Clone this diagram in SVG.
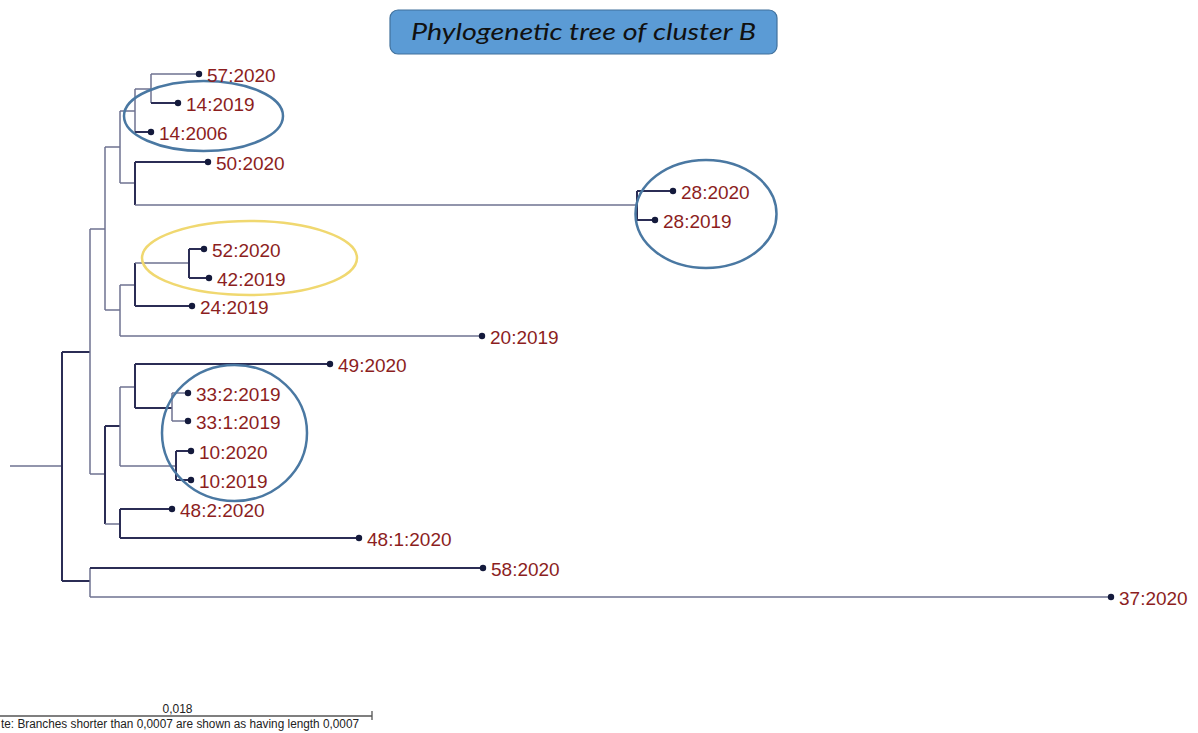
<svg xmlns="http://www.w3.org/2000/svg" width="1198" height="733" viewBox="0 0 1198 733">
  <style>
    .dk { stroke: #2b2d55; stroke-width: 2; fill: none; }
    .lt { stroke: #6e7290; stroke-width: 1.5; fill: none; }
    .tip { fill: #141a3c; }
    .lbl { font-family: "Liberation Sans", Arial, sans-serif; font-size: 19px; fill: #8c1e1e; }
    .ring { fill: none; stroke: #4a78a2; stroke-width: 2.5; }
    .ring-y { fill: none; stroke: #f0d870; stroke-width: 2.5; }
    .small { font-family: "Liberation Sans", Arial, sans-serif; font-size: 12px; fill: #222; }
  </style>

  <rect width="1198" height="733" fill="#ffffff"/>

  <!-- title -->
  <g id="title">
    <rect x="390" y="10" width="387" height="44" rx="8" fill="#5b9bd5" stroke="#41719c" stroke-width="1.2"/>
    <text x="583.5" y="40" text-anchor="middle" font-family="Lato, 'Open Sans', sans-serif" font-style="italic" font-size="24" fill="#111" textLength="345" lengthAdjust="spacingAndGlyphs">Phylogenetic tree of cluster B</text>
  </g>

  <!-- tree branches -->
  <g id="connectors">
    <!-- root -->
    <path class="lt" d="M10 466 H62"/>
    <path class="dk" d="M62 352 V581"/>
    <path class="dk" d="M62 352 H90"/>
    <path class="dk" d="M62 581 H90"/>

    <!-- outgroup pair -->
    <path class="lt" d="M90 568 V597"/>
    <path class="dk" d="M90 568 H483"/>
    <path class="lt" d="M90 597 H1111"/>

    <!-- main clade -->
    <path class="lt" d="M90 229 V474"/>
    <path class="lt" d="M90 229 H105"/>
    <path class="lt" d="M90 474 H105"/>

    <!-- upper subclade -->
    <path class="lt" d="M105 147 V310"/>
    <path class="lt" d="M105 147 H120"/>
    <path class="lt" d="M105 310 H120"/>

    <path class="lt" d="M120 111 V183"/>
    <path class="lt" d="M120 111 H135"/>
    <path class="lt" d="M120 183 H135"/>

    <path class="lt" d="M135 89 V132"/>
    <path class="lt" d="M135 89 H151"/>
    <path class="dk" d="M135 132 H151"/>
    <path class="lt" d="M151 74 V103"/>
    <path class="lt" d="M151 74 H199"/>
    <path class="dk" d="M151 103 H178"/>

    <path class="dk" d="M135 162 V205"/>
    <path class="dk" d="M135 162 H208"/>
    <path class="lt" d="M135 205 H637"/>
    <path class="dk" d="M637 191 V220"/>
    <path class="dk" d="M637 191 H673"/>
    <path class="dk" d="M637 220 H655"/>

    <path class="lt" d="M120 285 V336"/>
    <path class="lt" d="M120 285 H135"/>
    <path class="lt" d="M120 336 H482"/>
    <path class="dk" d="M135 263 V306"/>
    <path class="lt" d="M135 263 H189"/>
    <path class="dk" d="M135 306 H192"/>
    <path class="dk" d="M189 249 V278"/>
    <path class="dk" d="M189 249 H204"/>
    <path class="dk" d="M189 278 H209"/>

    <!-- lower subclade -->
    <path class="dk" d="M105 426 V524"/>
    <path class="dk" d="M105 426 H120"/>
    <path class="lt" d="M105 524 H120"/>

    <path class="lt" d="M120 387 V466"/>
    <path class="lt" d="M120 387 H135"/>
    <path class="lt" d="M120 466 H176"/>
    <path class="dk" d="M135 364 V408"/>
    <path class="dk" d="M135 364 H330"/>
    <path class="dk" d="M135 408 H172"/>
    <path class="lt" d="M172 393 V421"/>
    <path class="lt" d="M172 393 H188"/>
    <path class="lt" d="M172 421 H188"/>
    <path class="dk" d="M176 451 V480"/>
    <path class="dk" d="M176 451 H191"/>
    <path class="dk" d="M176 480 H191"/>

    <path class="dk" d="M120 509 V538"/>
    <path class="dk" d="M120 509 H172"/>
    <path class="dk" d="M120 538 H359"/>
  </g>

  <!-- highlight rings -->
  <g id="groups">
    <ellipse class="ring" cx="203.5" cy="116" rx="79.5" ry="35"/>
    <ellipse class="ring" cx="706" cy="214" rx="70.5" ry="54"/>
    <ellipse class="ring-y" cx="249.5" cy="258" rx="107.5" ry="37"/>
    <ellipse class="ring" cx="234.5" cy="433" rx="72.5" ry="68"/>
  </g>

  <!-- leaves -->
  <g id="leaf-57-2020"><circle class="tip" cx="199" cy="74" r="3.2"/><text class="lbl" x="207" y="82">57:2020</text></g>
  <g id="leaf-14-2019"><circle class="tip" cx="178" cy="103" r="3.2"/><text class="lbl" x="186" y="111">14:2019</text></g>
  <g id="leaf-14-2006"><circle class="tip" cx="151" cy="132" r="3.2"/><text class="lbl" x="159" y="140">14:2006</text></g>
  <g id="leaf-50-2020"><circle class="tip" cx="208" cy="162" r="3.2"/><text class="lbl" x="216" y="170">50:2020</text></g>
  <g id="leaf-28-2020"><circle class="tip" cx="673" cy="191" r="3.2"/><text class="lbl" x="681" y="199">28:2020</text></g>
  <g id="leaf-28-2019"><circle class="tip" cx="655" cy="220" r="3.2"/><text class="lbl" x="663" y="228">28:2019</text></g>
  <g id="leaf-52-2020"><circle class="tip" cx="204" cy="249" r="3.2"/><text class="lbl" x="212" y="257">52:2020</text></g>
  <g id="leaf-42-2019"><circle class="tip" cx="209" cy="278" r="3.2"/><text class="lbl" x="217" y="286">42:2019</text></g>
  <g id="leaf-24-2019"><circle class="tip" cx="192" cy="306" r="3.2"/><text class="lbl" x="200" y="314">24:2019</text></g>
  <g id="leaf-20-2019"><circle class="tip" cx="482" cy="336" r="3.2"/><text class="lbl" x="490" y="344">20:2019</text></g>
  <g id="leaf-49-2020"><circle class="tip" cx="330" cy="364" r="3.2"/><text class="lbl" x="338" y="372">49:2020</text></g>
  <g id="leaf-33-2-2019"><circle class="tip" cx="188" cy="393" r="3.2"/><text class="lbl" x="196" y="401">33:2:2019</text></g>
  <g id="leaf-33-1-2019"><circle class="tip" cx="188" cy="421" r="3.2"/><text class="lbl" x="196" y="429">33:1:2019</text></g>
  <g id="leaf-10-2020"><circle class="tip" cx="191" cy="451" r="3.2"/><text class="lbl" x="199" y="459">10:2020</text></g>
  <g id="leaf-10-2019"><circle class="tip" cx="191" cy="480" r="3.2"/><text class="lbl" x="199" y="488">10:2019</text></g>
  <g id="leaf-48-2-2020"><circle class="tip" cx="172" cy="509" r="3.2"/><text class="lbl" x="180" y="517">48:2:2020</text></g>
  <g id="leaf-48-1-2020"><circle class="tip" cx="359" cy="538" r="3.2"/><text class="lbl" x="367" y="546">48:1:2020</text></g>
  <g id="leaf-58-2020"><circle class="tip" cx="483" cy="568" r="3.2"/><text class="lbl" x="491" y="576">58:2020</text></g>
  <g id="leaf-37-2020"><circle class="tip" cx="1111" cy="597" r="3.2"/><text class="lbl" x="1119" y="605">37:2020</text></g>

  <!-- scale bar -->
  <g id="scale">
    <path d="M0 716 H372 M372 711 V720" stroke="#555" stroke-width="1.3" fill="none"/>
    <text class="small" x="177.5" y="713" text-anchor="middle">0,018</text>
    <text class="small" x="1" y="728" textLength="358" lengthAdjust="spacingAndGlyphs">te: Branches shorter than 0,0007 are shown as having length 0,0007</text>
  </g>
</svg>
